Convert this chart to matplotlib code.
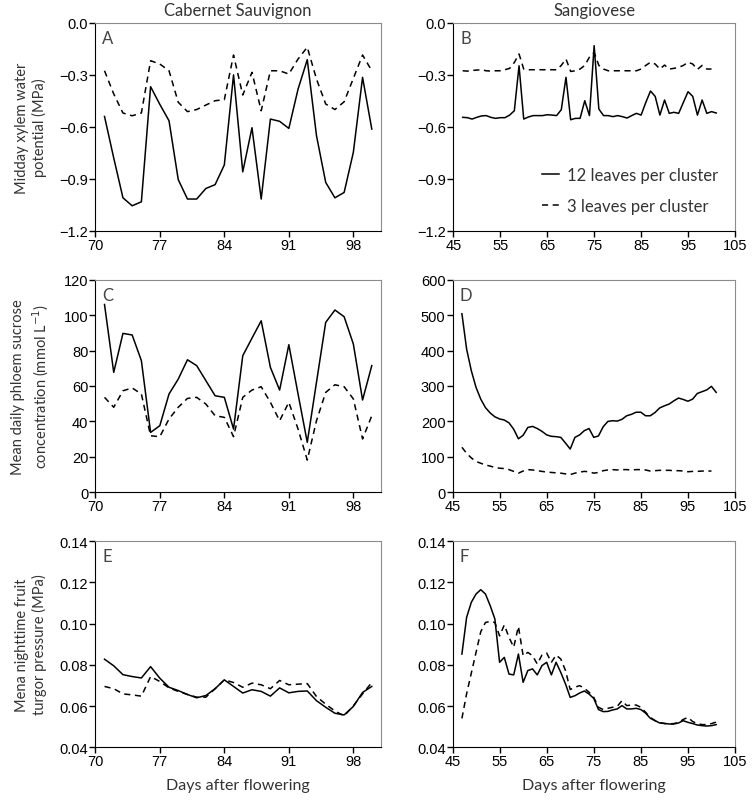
import matplotlib
matplotlib.use("Agg")
import matplotlib.pyplot as plt

plt.rcParams['font.family'] = ['Liberation Sans', 'DejaVu Sans']

# Cabernet Sauvignon (days 71-100)
days_cs = list(range(71, 101))
# Sangiovese (days 47-101)
days_sg = list(range(47, 102))
days_sg_dash = list(range(47, 101))

# A: midday xylem water potential, Cabernet Sauvignon
psi_cs_12 = [-0.54, -0.78, -1.01, -1.056, -1.033, -0.368, -0.47, -0.565, -0.905, -1.017,
             -1.017, -0.956, -0.934, -0.82, -0.30, -0.86, -0.605, -1.017, -0.555, -0.568,
             -0.609, -0.382, -0.212, -0.651, -0.921, -1.01, -0.979, -0.747, -0.314, -0.613]
psi_cs_3 = [-0.276, -0.41, -0.52, -0.536, -0.52, -0.218, -0.237, -0.276, -0.458, -0.512,
            -0.50, -0.474, -0.449, -0.443, -0.185, -0.416, -0.285, -0.507, -0.276, -0.276,
            -0.295, -0.208, -0.14, -0.324, -0.468, -0.50, -0.455, -0.32, -0.185, -0.276]

# B: midday xylem water potential, Sangiovese
psi_sg_12 = [-0.545, -0.547, -0.555, -0.545, -0.537, -0.535, -0.545, -0.551, -0.547, -0.547,
             -0.532, -0.507, -0.247, -0.555, -0.543, -0.535, -0.535, -0.535, -0.530, -0.532,
             -0.535, -0.501, -0.314, -0.559, -0.551, -0.551, -0.449, -0.535, -0.131, -0.497,
             -0.535, -0.535, -0.541, -0.535, -0.541, -0.549, -0.535, -0.522, -0.532, -0.459,
             -0.393, -0.424, -0.532, -0.445, -0.522, -0.516, -0.522, -0.459, -0.397, -0.424,
             -0.532, -0.445, -0.522, -0.512, -0.520]
psi_sg_3 = [-0.276, -0.278, -0.274, -0.272, -0.270, -0.276, -0.278, -0.276, -0.276, -0.270,
            -0.262, -0.228, -0.179, -0.266, -0.270, -0.270, -0.270, -0.270, -0.270, -0.270,
            -0.270, -0.245, -0.208, -0.280, -0.276, -0.266, -0.245, -0.197, -0.170, -0.245,
            -0.266, -0.276, -0.276, -0.276, -0.276, -0.276, -0.276, -0.276, -0.266, -0.245,
            -0.227, -0.237, -0.266, -0.243, -0.266, -0.262, -0.256, -0.245, -0.227, -0.237,
            -0.268, -0.245, -0.266, -0.266]

# C: phloem sucrose, Cabernet Sauvignon
suc_cs_12 = [106, 67.7, 89.7, 88.8, 74.3, 33.8, 37.6, 55.5, 63.9, 74.8,
             71.5, 63, 54.5, 53.6, 35.7, 77.1, 87, 96.8, 70.5, 57.7,
             83.3, 55.5, 28.2, 62.1, 95.9, 102.9, 99.1, 83.7, 52.1, 71.5]
suc_cs_3 = [53.6, 48, 57.3, 58.9, 55.5, 31.9, 31.4, 41.4, 48, 53,
            53.6, 49.8, 43.2, 42.3, 31.4, 53.6, 57.7, 59.6, 50.8, 40.4,
            50.8, 35.7, 18.2, 40.4, 56.4, 60.7, 59.6, 52.7, 30.1, 43.2]

# D: phloem sucrose, Sangiovese
suc_sg_12 = [504, 404, 343, 296, 263, 239, 224, 213, 207, 204,
             196, 178, 151, 161, 183, 186, 180, 172, 162, 158,
             157, 155, 139, 122, 155, 162, 174, 180, 155, 159,
             185, 200, 202, 201, 206, 216, 220, 226, 226, 216,
             216, 225, 238, 244, 249, 258, 266, 262, 257, 263,
             279, 284, 289, 299, 282]
suc_sg_3 = [127, 110, 97, 87, 82, 77, 74, 70, 68, 67,
            64, 59, 54, 60, 64, 63, 61, 59, 57, 56,
            55, 54, 52, 50, 54, 57, 59, 58, 54, 56,
            61, 63, 64, 63, 64, 64, 63, 64, 64, 63,
            60, 61, 62, 62, 62, 61, 61, 60, 58, 59,
            59, 60, 60, 60]

# E: nighttime fruit turgor, Cabernet Sauvignon
tur_cs_12 = [0.0827, 0.0795, 0.0752, 0.0743, 0.0736, 0.0791, 0.0735, 0.0691, 0.0675, 0.0656,
             0.0640, 0.0651, 0.0684, 0.0727, 0.0695, 0.0663, 0.0679, 0.0671, 0.0648, 0.0688,
             0.0664, 0.0671, 0.0673, 0.0626, 0.0594, 0.0565, 0.0557, 0.0598, 0.0666, 0.0695]
tur_cs_3 = [0.0695, 0.0684, 0.0659, 0.0654, 0.0648, 0.0743, 0.0719, 0.0688, 0.0671, 0.0656,
            0.0643, 0.0643, 0.0684, 0.0727, 0.0714, 0.0691, 0.0711, 0.0703, 0.0684, 0.0724,
            0.0703, 0.0706, 0.0709, 0.0646, 0.0609, 0.0576, 0.0552, 0.0601, 0.0659, 0.0714]

# F: nighttime fruit turgor, Sangiovese
tur_sg_12 = [0.0852, 0.1030, 0.1103, 0.1143, 0.1164, 0.1143, 0.1087, 0.1022, 0.0812, 0.0836,
             0.0755, 0.0751, 0.0852, 0.0715, 0.0772, 0.0780, 0.0751, 0.0796, 0.0812, 0.0751,
             0.0812, 0.0763, 0.0707, 0.0642, 0.0650, 0.0663, 0.0673, 0.0658, 0.0637, 0.0583,
             0.0573, 0.0574, 0.0581, 0.0586, 0.0602, 0.0586, 0.0586, 0.0589, 0.0583, 0.0566,
             0.0541, 0.0529, 0.0518, 0.0516, 0.0513, 0.0513, 0.0518, 0.0529, 0.0521, 0.0515,
             0.0508, 0.0505, 0.0503, 0.0505, 0.0510]
tur_sg_3 = [0.0540, 0.0660, 0.0760, 0.0860, 0.0960, 0.1005, 0.1010, 0.1005, 0.0940, 0.0993,
            0.0933, 0.0885, 0.0986, 0.0844, 0.0860, 0.0844, 0.0804, 0.0847, 0.0857, 0.0812,
            0.0847, 0.0828, 0.0772, 0.0680, 0.0691, 0.0699, 0.0686, 0.0667, 0.0642, 0.0594,
            0.0583, 0.0589, 0.0594, 0.0599, 0.0626, 0.0602, 0.0605, 0.0605, 0.0594, 0.0570,
            0.0545, 0.0530, 0.0520, 0.0515, 0.0513, 0.0515, 0.0520, 0.0535, 0.0545, 0.0525,
            0.0515, 0.0510, 0.0510, 0.0515, 0.0522]

W, H = 752, 803
fig = plt.figure(figsize=(W / 100, H / 100), dpi=100)


def make_axes(left, right, top, bottom):
    return fig.add_axes([left / W, 1 - bottom / H, (right - left) / W, (bottom - top) / H])


label_font = ['Lato', 'DejaVu Sans']
txt_color = '#333333'


def style(ax, letter, xlim, xticks, ylim, yticks, fmt):
    ax.set_xlim(*xlim)
    ax.set_ylim(*ylim)
    ax.set_xticks(xticks)
    ax.set_yticks(yticks)
    ax.set_yticklabels([fmt.format(v).replace('-', '\u2212') for v in yticks])
    ax.tick_params(direction='out', length=4, width=1, labelsize=10.5, color='black', pad=1)
    for s in ['top', 'right']:
        ax.spines[s].set_color('#8c8c8c')
    for s in ['left', 'bottom']:
        ax.spines[s].set_color('black')
    ax.text(0.025, 0.965, letter, transform=ax.transAxes, va='top', ha='left',
            fontsize=12, color='#444444', family=label_font)


def draw(ax, x1, y1, x2, y2):
    ax.plot(x1, y1, color='black', lw=1.1, label='12 leaves per cluster')
    ax.plot(x2, y2, color='black', lw=1.1, dashes=(4, 3), label='3 leaves per cluster')


ax_a = make_axes(95.3, 381, 24, 231.7)
ax_b = make_axes(453.3, 735, 24, 231.7)
ax_c = make_axes(95.3, 381, 280.7, 493.3)
ax_d = make_axes(452.5, 735, 280.7, 493.3)
ax_e = make_axes(95.3, 381, 542, 748.3)
ax_f = make_axes(452.5, 735, 542, 748.3)

draw(ax_a, days_cs, psi_cs_12, days_cs, psi_cs_3)
draw(ax_b, days_sg, psi_sg_12, days_sg_dash, psi_sg_3)
draw(ax_c, days_cs, suc_cs_12, days_cs, suc_cs_3)
draw(ax_d, days_sg, suc_sg_12, days_sg_dash, suc_sg_3)
draw(ax_e, days_cs, tur_cs_12, days_cs, tur_cs_3)
draw(ax_f, days_sg, tur_sg_12, days_sg, tur_sg_3)

cs_ticks = [70, 77, 84, 91, 98]
sg_ticks = [45, 55, 65, 75, 85, 95, 105]
psi_ticks = [0.0, -0.3, -0.6, -0.9, -1.2]

style(ax_a, 'A', (70, 101), cs_ticks, (-1.2, 0.0), psi_ticks, '{:.1f}')
style(ax_b, 'B', (45, 105), sg_ticks, (-1.2, 0.0), psi_ticks, '{:.1f}')
style(ax_c, 'C', (70, 101), cs_ticks, (0, 120), [0, 20, 40, 60, 80, 100, 120], '{:.0f}')
style(ax_d, 'D', (45, 105), sg_ticks, (0, 600), [0, 100, 200, 300, 400, 500, 600], '{:.0f}')
tur_ticks = [0.04, 0.06, 0.08, 0.10, 0.12, 0.14]
style(ax_e, 'E', (70, 101), cs_ticks, (0.04, 0.14), tur_ticks, '{:.2f}')
style(ax_f, 'F', (45, 105), sg_ticks, (0.04, 0.14), tur_ticks, '{:.2f}')

leg = ax_b.legend(loc='lower right', frameon=False, handlelength=1.0, handletextpad=0.5,
                  labelspacing=0.9, borderaxespad=0.6,
                  prop={'family': label_font, 'size': 12})
for t in leg.get_texts():
    t.set_color(txt_color)

# column titles
fig.text((95.3 + 381) / 2 / W, 1 - 11 / H, 'Cabernet Sauvignon', ha='center', va='center',
         fontsize=12, color=txt_color, family=label_font)
fig.text((453.3 + 735) / 2 / W, 1 - 11 / H, 'Sangiovese', ha='center', va='center',
         fontsize=12, color=txt_color, family=label_font)

# y labels
ylabels = [('Midday xylem water\npotential (MPa)', 128),
           ('Mean daily phloem sucrose\nconcentration (mmol L$^{-1}$)', 387),
           ('Mena nighttime fruit\nturgor pressure (MPa)', 645)]
for text, yc in ylabels:
    fig.text(31 / W, 1 - yc / H, text, rotation=90, ha='center', va='center',
             fontsize=10.5, color=txt_color, family=label_font, linespacing=1.3)

# x labels
fig.text((95.3 + 381) / 2 / W, 1 - 786 / H, 'Days after flowering', ha='center', va='center',
         fontsize=11.5, color=txt_color, family=label_font)
fig.text((453.3 + 735) / 2 / W, 1 - 786 / H, 'Days after flowering', ha='center', va='center',
         fontsize=11.5, color=txt_color, family=label_font)

fig.savefig('out.png', dpi=100)
